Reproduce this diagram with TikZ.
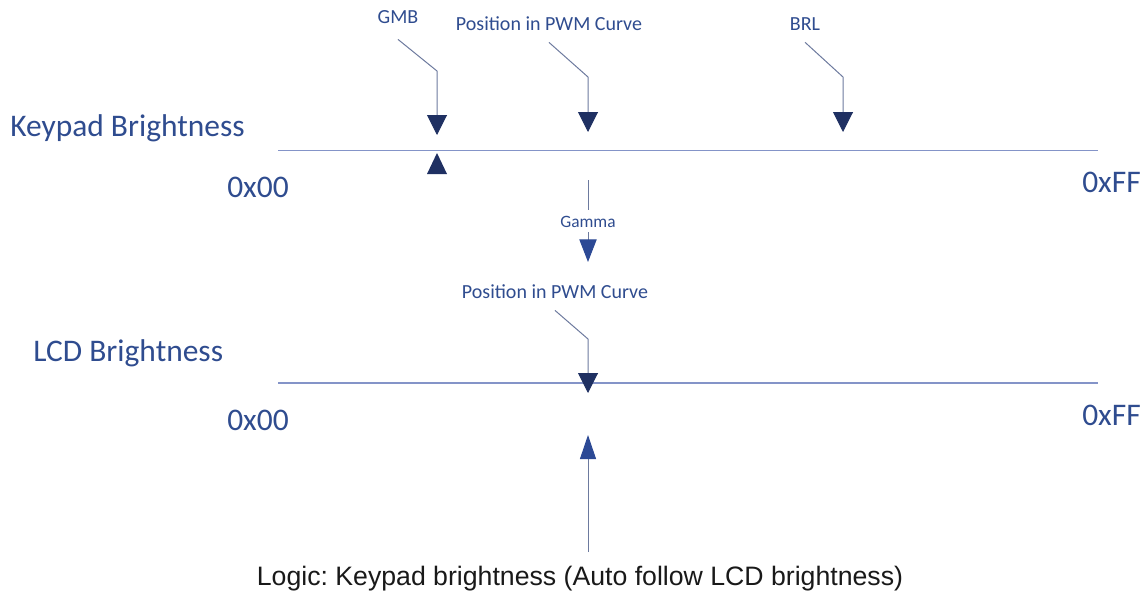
\documentclass[tikz,border=0pt]{standalone}
\usepackage{fontspec}
\setmainfont{Carlito}
\newfontfamily\arialfont{Liberation Sans}
\usetikzlibrary{arrows.meta,positioning,calc}
\definecolor{ink}{HTML}{2F4C8F}
\definecolor{deep}{HTML}{1F3062}
\definecolor{bright}{HTML}{2C4995}
\definecolor{rule}{HTML}{8494C8}
\definecolor{lead}{HTML}{6D7A9E}
\frenchspacing

\begin{document}
\begin{tikzpicture}[x=0.75pt, y=-0.75pt,
  big/.style={text=ink, font=\fontsize{23.6}{27}\selectfont, inner sep=0pt, anchor=base west},
  tag/.style={text=ink, font=\fontsize{15}{18}\selectfont, inner sep=0pt, anchor=base},
  axis/.style={draw=rule, line width=1pt},
  leader/.style={draw=lead, line width=0.75pt, -{Triangle[width=15pt,length=15pt,color=deep]}},
  feed/.style={draw=lead, line width=0.75pt, -{Triangle[width=13pt,length=17pt,color=bright]}}]
  \useasboundingbox (0,0) rectangle (1146,594);

  \node[big] (kp) at (10,136) {Keypad Brightness};
  \node[big] (kpmin) at (227,197) {0x00};
  \node[big] (kpmax) at (1082,192) {0xFF};
  \coordinate (kpa) at (278,150.5);
  \coordinate (kpb) at (1098,150.5);
  \draw[axis] (kpa) -- (kpb);

  \node[big] (lcd) at (33,361) {LCD Brightness};
  \node[big] (lcdmin) at (227,430) {0x00};
  \node[big] (lcdmax) at (1082,425) {0xFF};
  \coordinate (lcda) at (278,383);
  \coordinate (lcdb) at (1098,383);
  \draw[axis] (lcda) -- (lcdb);

  \node[tag] (gmb) at (398,23) {GMB};
  \node[tag] (pos) at (549,30) {Position in PWM Curve};
  \node[tag] (brl) at (805,30) {BRL};
  \coordinate (gmbk) at (437,71);
  \coordinate (gmbt) at (437,135);
  \coordinate (posk) at (588,77);
  \coordinate (post) at (588,132);
  \coordinate (brlk) at (843,77);
  \coordinate (brlt) at (843,132);
  \draw[leader] ($(gmb.south)+(0,16)$) -- (gmbk) -- (gmbt);
  \draw[leader] ($(pos.south)+(0,12)$) -- (posk) -- (post);
  \draw[leader] ($(brl.south)+(0,12)$) -- (brlk) -- (brlt);
  \fill[deep] (427,174) -- (447,174) -- (437,153) -- cycle;

  \node[tag, font=\fontsize{13}{16}\selectfont] (gam) at (588,227) {Gamma};
  \coordinate (gamtop) at (588,180);
  \coordinate (gamtip) at (588,262);
  \draw[draw=lead, line width=0.75pt] (gamtop) -- ($(gam.north)+(0,-5)$);
  \draw[feed] ($(gam.south)+(0,5)$) -- (gamtip);

  \node[tag] (pos2) at (555,298) {Position in PWM Curve};
  \coordinate (pos2k) at (588,339);
  \coordinate (pos2t) at (588,393);
  \draw[leader] ($(pos2.south)+(0,12)$) -- (pos2k) -- (pos2t);

  \node[text=black!90, font=\arialfont\fontsize{20}{24}\selectfont, inner sep=0pt, anchor=base] (logic) at (580,585)
    {Logic: Keypad brightness (Auto follow LCD brightness)};
  \coordinate (upb) at (588,552);
  \coordinate (upt) at (588,435);
  \draw[feed, -{Triangle[width=12pt,length=18pt,color=bright]}] (upb) -- (upt);
\end{tikzpicture}
\end{document}
